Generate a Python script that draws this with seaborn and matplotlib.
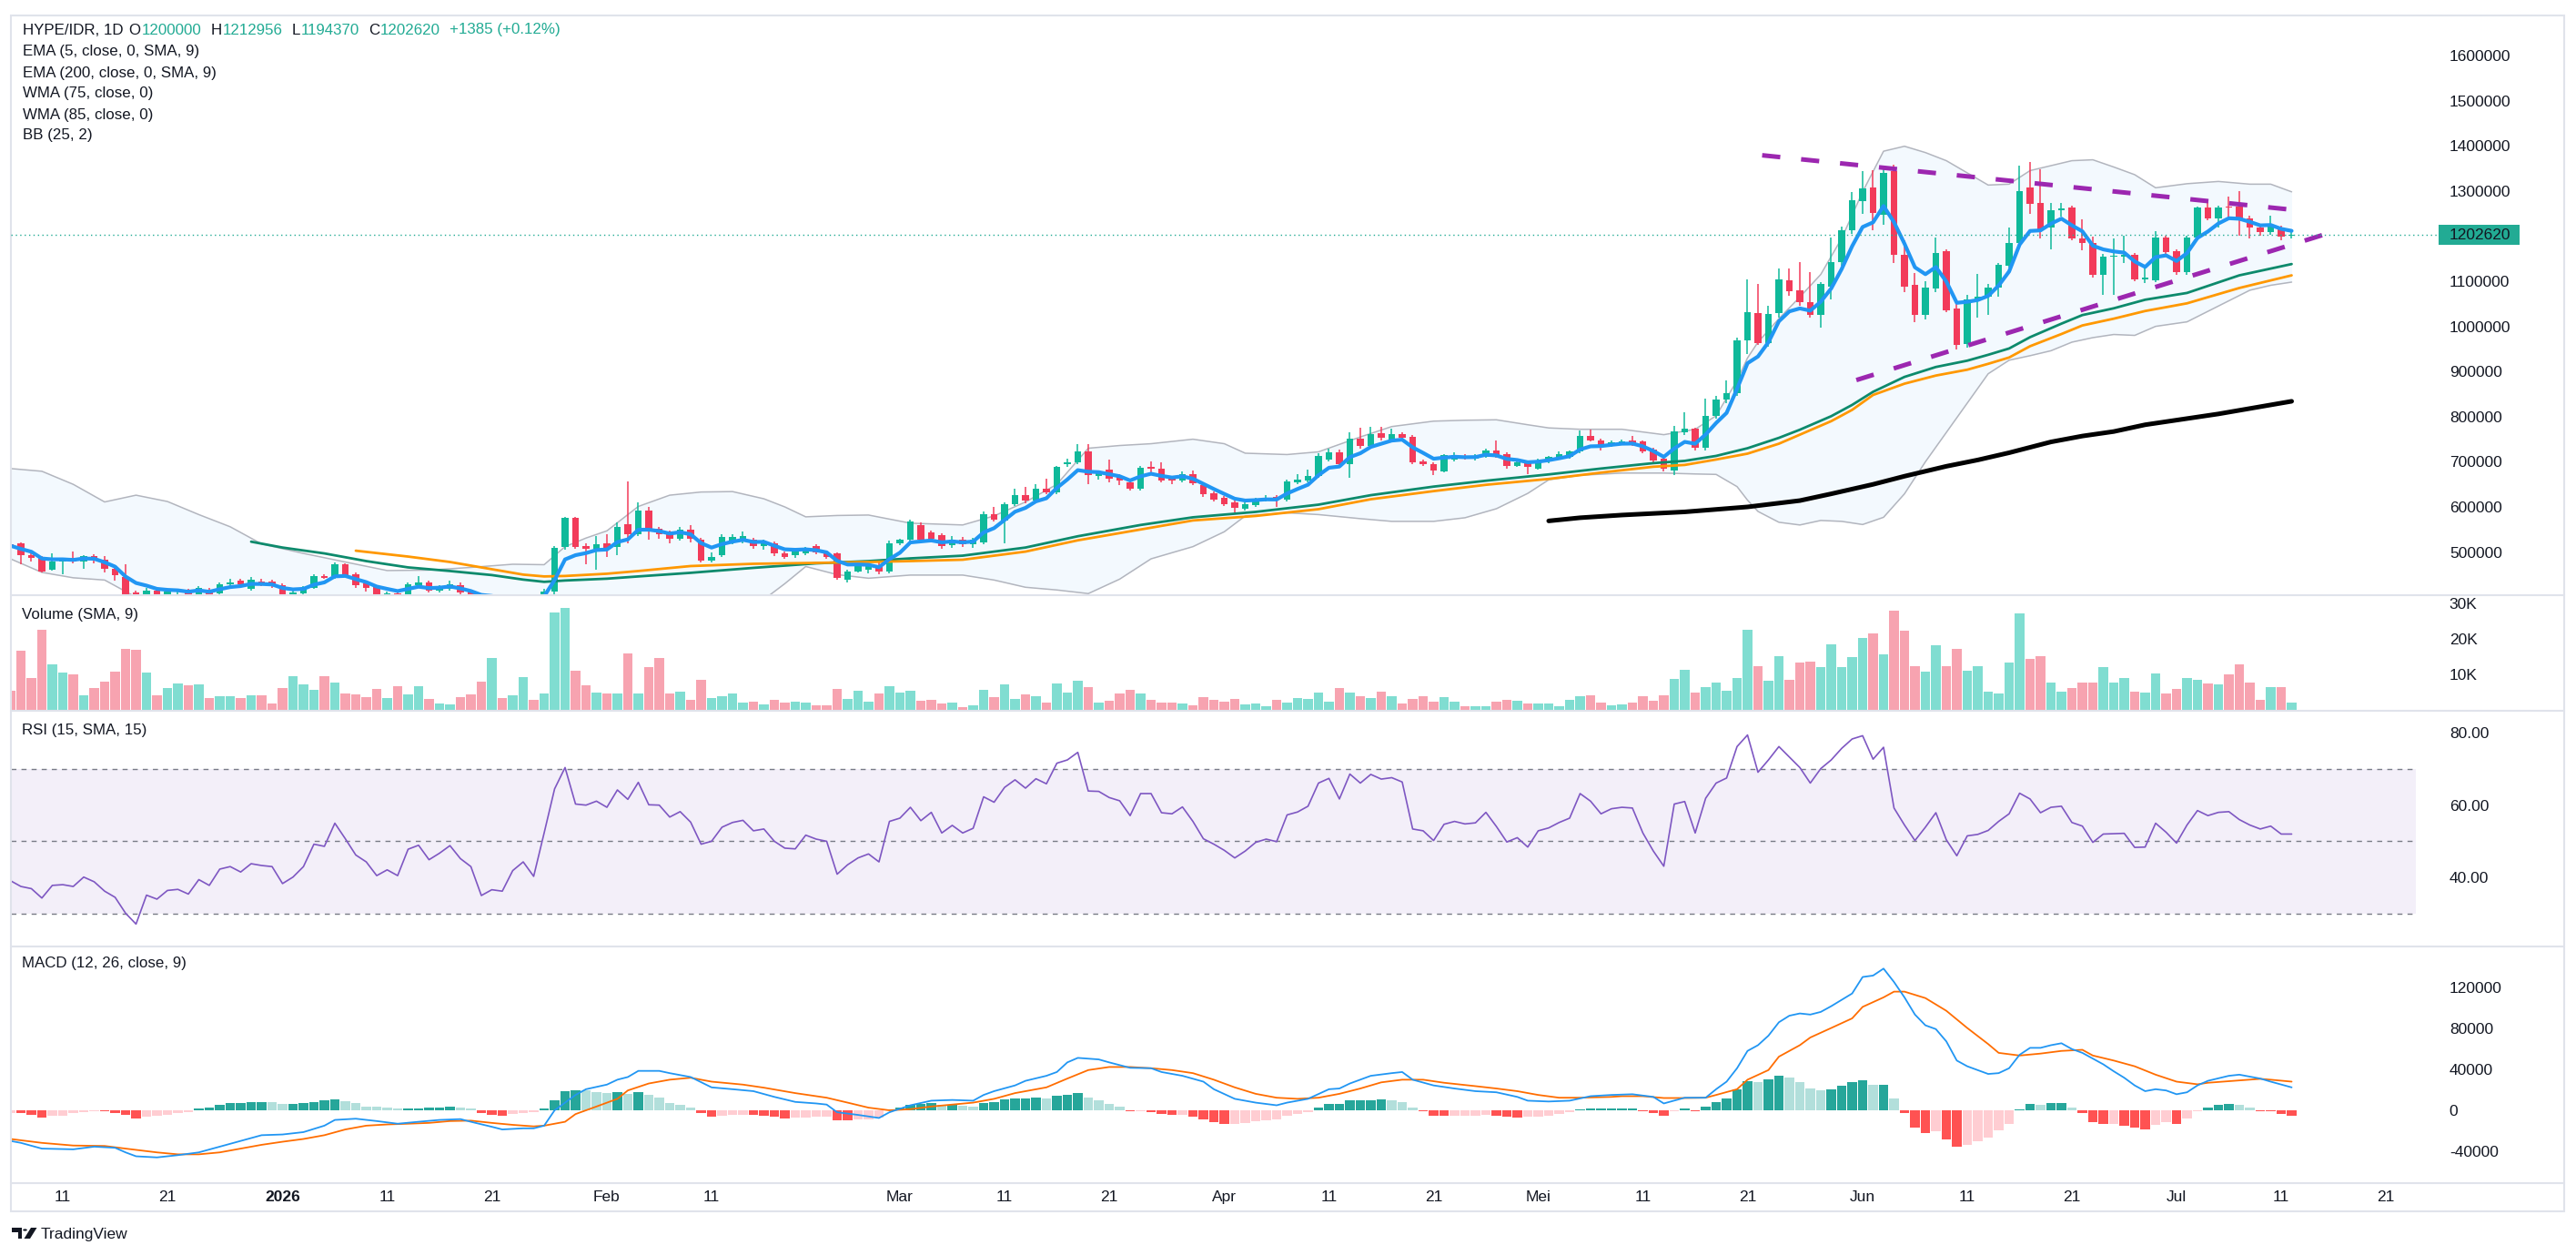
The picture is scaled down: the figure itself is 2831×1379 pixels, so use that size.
import numpy as np
import pandas as pd
import matplotlib
matplotlib.use("Agg")
import matplotlib.pyplot as plt
import seaborn as sns
from matplotlib.lines import Line2D
from matplotlib.patches import Rectangle, Polygon, Circle
from matplotlib.transforms import blended_transform_factory, Bbox, TransformedBbox

# ------------------------------------------------------------------ data
start_date = "2025-12-06"          # first daily candle (index 0)
symbol_title = "HYPE/IDR, 1D"
last_ohlc = [("O", "1200000"), ("H", "1212956"), ("L", "1194370"), ("C", "1202620")]
last_change = "+1385 (+0.12%)"
last_price = 1202620

# daily candles, values in thousand IDR
open_k = [516,520,494,489,461,480,487,479,492,483, 462,445,410,403,414,405,412,414,405,417,
          409,428,436,419,434,434,426,406,409,420, 446,446,473,451,430,422,405,409,402,426,
          432,414,418,427,412,402,388,398,390,396, 402,393,412,511,575,513,508,519,512,561,
          540,592,551,545,530,550,527,481,493,522, 523,527,513,520,497,493,497,513,500,497,
          438,456,461,470,456,520,527,560,544,537, 515,528,517,521,584,570,607,626,614,641,
          633,694,699,723,668,683,669,654,640,687, 685,664,658,673,648,631,621,611,596,604,
          615,623,617,654,658,669,705,720,695,752, 736,763,750,761,755,701,695,679,705,713,
          707,711,726,717,691,699,685,700,707,710, 722,757,748,736,741,747,745,728,707,680,
          766,773,732,802,837,852,968,1029,963,1029, 1102,1080,1053,1025,1088,1143,1213,1277,1308,1248,
          1344,1159,1092,1026,1084,1166,1040,960,1057,1066, 1086,1135,1184,1307,1273,1218,1258,1264,1194,1184,
          1115,1154,1154,1158,1105,1103,1197,1166,1120,1197, 1263,1240,1265,1265,1240,1219,1208,1217,1200]
high_k = [520,521,498,491,497,486,502,494,495,491, 465,472,415,420,418,419,418,418,425,420,
          432,441,441,445,440,438,430,415,425,450, 450,478,476,455,433,425,412,412,432,446,
          436,426,436,432,416,408,402,401,400,405, 404,418,514,578,578,519,535,540,565,656,
          610,600,555,548,555,560,532,500,540,540, 545,532,528,524,502,506,512,518,503,500,
          460,478,476,478,525,530,572,566,548,542, 535,534,531,590,600,611,640,645,650,662,
          690,706,740,739,680,705,673,662,690,700, 698,668,678,680,652,634,625,614,610,620,
          627,626,660,672,682,718,730,728,765,775, 778,778,773,766,760,705,698,716,720,717,
          716,729,747,720,703,702,706,713,722,726, 770,772,752,748,750,758,748,732,710,780,
          810,776,840,845,880,975,1104,1093,1046,1128, 1129,1142,1120,1098,1196,1220,1297,1343,1345,1354,
          1359,1190,1118,1100,1197,1170,1050,1070,1117,1093, 1140,1219,1357,1364,1347,1273,1274,1268,1237,1199,
          1160,1195,1200,1163,1130,1210,1200,1170,1200,1266, 1275,1268,1287,1300,1245,1225,1245,1222,1212.956]
low_k = [510,473,480,454,458,451,476,463,476,454, 436,398,395,398,398,400,404,400,400,402,
         405,425,423,414,425,420,398,402,405,418, 440,440,445,420,413,396,398,398,398,424,
         410,410,414,407,396,382,370,385,386,390, 388,390,404,505,508,473,460,490,494,520,
         536,527,530,520,525,522,478,478,490,518, 520,508,505,492,485,488,493,496,485,438,
         433,455,452,450,452,515,522,524,522,508, 510,512,510,518,568,520,603,608,610,628,
         628,688,695,650,660,655,648,636,636,670, 655,650,654,648,622,612,602,588,592,600,
         612,600,612,650,655,664,700,690,664,730, 730,748,745,748,694,690,670,676,700,705,
         703,708,708,685,688,672,682,697,704,707, 719,745,726,733,738,736,718,698,678,670,
         760,725,726,795,830,845,938,958,955,1020, 1068,1045,1020,998,1060,1135,1205,1250,1213,1226,
         1140,1075,1009,1016,1075,1032,949,953,1020,1025, 1066,1130,1180,1249,1194,1170,1244,1190,1169,1108,
         1069,1070,1140,1100,1095,1097,1158,1115,1115,1190, 1235,1219,1238,1200,1195,1201,1203,1191,1194.37]
close_k = [514,493,488,456,480,484,480,492,484,462, 448,402,403,414,404,412,413,406,421,406,
           429,432,429,439,429,426,405,411,421,446, 443,473,449,426,420,404,408,404,428,433,
           414,423,429,411,402,388,398,390,396,402, 393,412,510,575,512,507,518,508,555,540,
           592,550,540,530,550,530,481,490,533,534, 535,513,523,497,490,503,508,500,490,443,
           456,473,470,456,520,527,567,528,530,513, 528,517,527,584,572,607,626,615,641,633,
           688,698,723,671,675,663,659,640,686,685, 659,658,673,652,628,617,607,597,606,617,
           620,616,656,660,668,712,720,695,752,736, 761,754,761,753,698,695,681,714,715,708,
           711,726,711,691,699,689,703,710,716,722, 757,748,736,743,745,741,722,703,685,767,
           773,732,801,837,853,968,1032,963,1028,1104, 1077,1053,1025,1094,1143,1213,1279,1305,1251,1339,
           1159,1088,1026,1085,1163,1035,958,1059,1066,1086, 1136,1184,1300,1272,1215,1257,1261,1194,1184,1115,
           1154,1157,1158,1105,1107,1197,1165,1120,1197,1263, 1239,1263,1263,1236,1218,1208,1226,1199,1202.62]
volume_k = [5.5,16.6,8.9,22.5,12.8,10.6,10.0,4.0,6.1,8.0, 10.8,17.1,16.9,10.6,4.0,6.1,7.4,6.8,7.2,3.3,
            3.9,3.9,3.3,4.0,4.1,1.8,6.1,9.5,7.2,5.6, 9.5,7.6,4.6,4.4,3.6,5.9,3.3,6.6,4.4,6.6,
            3.1,1.8,1.5,3.7,4.4,8.0,14.7,3.4,4.2,9.3, 2.8,4.6,27.4,28.6,11.0,7.0,4.8,4.6,4.6,15.8,
            4.6,12.1,14.7,4.6,5.2,2.8,8.5,3.4,3.9,4.6, 2.0,2.4,1.5,2.8,2.0,2.4,2.0,1.3,1.3,5.8,
            3.1,5.4,2.4,4.6,6.7,4.8,5.4,2.6,2.8,1.8, 2.0,0.8,1.3,5.6,3.6,7.2,3.1,4.4,3.9,2.0,
            7.4,4.8,8.2,6.4,2.0,2.6,4.6,5.6,4.6,2.8, 2.0,2.0,1.8,1.3,3.6,2.8,2.4,3.1,1.5,1.8,
            1.1,2.8,2.0,3.3,3.1,4.8,2.4,6.1,4.8,3.9, 3.3,5.2,3.9,1.8,3.1,3.9,2.4,3.6,2.4,1.1,
            1.1,1.1,2.4,2.8,2.6,1.8,1.8,1.8,1.1,2.8, 3.9,4.1,2.0,1.3,1.5,2.0,3.9,2.6,4.1,8.7,
            11.3,4.8,6.5,7.6,5.4,8.9,22.5,12.3,8.2,15.1, 8.5,13.4,13.6,12.1,18.4,12.1,14.9,20.3,21.6,15.6,
            27.9,22.3,12.3,10.8,18.2,12.3,17.1,11.0,12.3,5.2, 4.6,13.4,27.2,14.3,15.1,7.6,5.2,6.1,7.6,7.6,
            12.1,7.6,8.9,5.2,4.8,10.2,4.6,5.9,8.9,8.5, 7.4,7.2,10.0,12.8,7.6,2.8,6.5,6.5,2.0]

# RSI (15) read per candle
rsi_vals = [39.1,37.5,36.9,34.3,37.8,38.0,37.5,40.1,38.8,36.2, 34.5,30.1,27.1,35.1,34.0,36.4,36.7,35.4,39.4,37.8,
            42.3,43.0,41.5,43.8,43.3,43.0,38.3,40.1,43.0,49.2, 48.6,55.0,50.7,46.2,44.3,40.5,42.1,40.5,47.8,48.9,
            44.9,46.7,48.8,45.2,43.0,35.0,36.6,36.2,41.9,44.3, 40.3,52.3,64.5,70.4,60.3,60.0,61.1,59.4,64.2,61.6,
            66.3,60.1,60.0,56.7,58.2,55.3,49.2,50.0,53.9,55.2, 55.8,52.9,53.4,50.0,48.1,47.9,51.7,50.6,50.0,40.9,
            43.5,45.4,46.5,44.3,55.5,56.4,59.4,55.7,58.0,52.3, 54.4,52.3,53.6,62.3,60.8,64.9,67.0,64.7,67.3,65.9,
            71.6,72.5,74.6,63.9,63.8,62.1,61.2,57.1,63.2,63.2, 57.9,57.6,59.5,55.5,50.7,49.2,47.5,45.4,47.3,49.7,
            50.6,49.9,57.3,58.1,59.7,66.1,67.4,61.7,68.6,66.1, 68.5,67.2,67.6,66.4,53.4,52.9,50.2,54.7,55.5,54.8,
            55.1,58.0,54.1,49.8,51.0,48.4,52.9,53.7,55.2,56.4, 63.2,61.1,57.6,59.0,59.4,59.2,52.3,47.3,43.1,60.3,
            61.0,52.3,61.9,66.1,67.5,76.2,79.4,69.1,72.5,76.2, 73.3,70.4,66.1,70.1,72.5,75.7,78.3,79.2,72.7,76.0,
            59.2,54.5,50.2,53.9,57.9,50.4,46.0,51.5,51.9,53.0, 55.5,57.6,63.3,61.7,57.9,59.4,59.7,55.2,54.2,49.7,
            52.0,52.1,52.2,48.3,48.4,55.0,52.5,49.5,54.5,58.5, 57.1,58.0,58.2,56.0,54.5,53.4,54.2,52.0,52.0]

# MACD histogram per candle (thousand)
hist_k = [-2.6,-3.0,-4.5,-6.7,-4.9,-4.9,-3.0,-1.9,-0.7,-1.1, -2.6,-4.5,-7.9,-6.4,-5.6,-4.1,-3.0,-1.9,2.2,3.0,
          4.9,6.7,7.5,8.2,8.2,7.9,6.4,6.4,6.7,7.9, 9.4,10.8,8.6,6.7,3.7,3.4,3.0,1.5,2.2,2.2,
          3.0,3.0,3.4,2.6,1.5,-2.6,-4.5,-5.2,-3.7,-3.0, -1.9,1.9,10.1,18.7,19.8,19.4,17.6,16.8,17.6,16.1,
          17.6,15.0,12.3,7.5,5.6,2.6,-2.6,-6.4,-5.6,-4.5, -4.1,-4.5,-5.6,-6.4,-7.9,-7.5,-7.5,-6.4,-6.4,-9.4,
          -10.1,-8.6,-8.6,-7.5,1.1,2.6,5.6,6.4,6.7,5.2, 5.6,4.1,3.4,6.7,7.9,10.5,12.0,12.0,12.7,12.0,
          14.6,15.0,16.5,12.7,10.1,6.4,3.4,-1.1,-1.1,-1.9, -3.4,-4.5,-4.5,-6.4,-8.6,-11.2,-13.1,-13.1,-12.0,-10.8,
          -10.1,-8.6,-5.6,-3.7,-1.9,3.0,6.4,6.4,10.1,10.1, 10.1,10.8,10.1,8.2,3.0,-1.1,-4.9,-5.6,-5.6,-5.6,
          -4.9,-4.1,-5.6,-6.4,-7.5,-6.4,-6.4,-4.9,-3.7,-1.9, 1.1,1.9,1.9,1.9,1.9,1.9,-1.1,-2.6,-5.6,-1.1,
          1.9,-0.7,3.7,8.2,12.0,20.6,28.8,27.3,29.9,33.7, 31.8,27.3,21.7,19.8,20.6,23.6,27.3,29.2,25.1,25.1,
          12.0,-2.6,-16.8,-22.4,-20.6,-28.1,-35.5,-34.0,-30.3,-26.9, -19.8,-13.1,0.7,6.4,5.6,6.7,7.5,2.6,-3.0,-11.2,
          -13.1,-13.1,-15.0,-16.8,-18.7,-13.8,-11.2,-13.1,-8.2,-1.1, 3.0,5.6,6.4,5.6,2.6,-0.7,-1.1,-3.7,-5.6]

# MACD and signal lines read at sample candles: (candle index, thousand)
macd_pts = [(0,-29.9),(1,-31.8),(3,-37.4),(6,-38.1),(8,-35.5),(10,-36.6),(11,-41.1),(12,-44.9),(14,-46.0),
            (16,-43.8),(18,-41.1),(20,-35.5),(22,-29.9),(24,-24.3),(26,-23.6),(28,-21.3),(30,-15.0),(31,-9.4),
            (33,-8.2),(35,-10.5),(37,-13.1),(39,-11.2),(41,-9.4),(43,-8.6),(44,-11.2),(46,-16.1),(47,-18.7),
            (49,-17.6),(50,-17.6),(51,-15.0),(52,0.0),(54,15.0),(55,20.6),(57,25.1),(58,29.9),(59,32.5),
            (60,38.5),(62,38.5),(63,36.3),(65,32.5),(67,22.4),(69,20.6),(71,18.7),(73,13.1),(75,8.2),
            (77,6.7),(78,5.6),(79,-1.9),(81,-4.5),(83,-7.5),(84,-1.9),(86,4.9),(88,9.4),(90,10.1),(92,9.4),
            (93,15.0),(94,18.7),(96,24.3),(97,28.8),(99,33.7),(100,37.4),(101,46.8),(102,51.2),(104,49.7),
            (105,46.8),(107,41.5),(109,41.1),(110,37.4),(112,33.7),(114,28.0),(115,20.6),(117,11.2),(119,7.5),
            (121,4.9),(122,7.5),(124,11.2),(126,20.6),(127,21.3),(128,26.2),(130,33.7),(132,36.3),(133,37.4),
            (134,29.9),(136,24.3),(138,21.3),(140,18.7),(142,17.6),(144,13.1),(145,9.4),(147,8.6),(149,9.4),
            (151,13.8),(153,15.0),(155,15.7),(157,13.1),(158,6.7),(160,12.3),(162,12.3),(163,20.6),(164,28.0),
            (165,41.1),(166,58.0),(167,63.6),(168,72.9),(169,86.0),(170,92.4),(171,94.6),(172,93.5),(173,96.1),
            (174,101.7),(176,114.1),(177,130.2),(178,131.6),(179,138.4),(180,125.3),(181,110.3),(182,93.5),
            (183,83.0),(184,79.3),(185,67.3),(186,48.6),(187,43.0),(188,39.3),(189,35.5),(190,36.3),(191,41.1),
            (192,54.2),(193,61.0),(194,61.0),(195,63.6),(196,65.5),(197,59.8),(198,56.1),(200,44.9),(201,38.1),
            (202,31.8),(203,24.3),(204,18.7),(205,20.6),(206,19.4),(207,15.7),(208,17.6),(209,24.3),(210,28.8),
            (212,33.7),(213,34.8),(215,31.0),(216,28.0),(218,22.4)]
signal_pts = [(0,-28.0),(3,-31.8),(6,-34.4),(9,-34.8),(11,-37.4),(14,-41.1),(16,-43.0),(18,-43.0),(20,-41.1),
              (22,-37.4),(24,-33.7),(26,-30.7),(28,-28.0),(30,-24.3),(32,-18.7),(34,-15.0),(36,-13.8),(38,-13.1),
              (40,-12.3),(42,-10.5),(44,-10.1),(46,-12.3),(48,-14.2),(50,-15.7),(51,-15.0),(53,-11.2),(54,-3.7),
              (56,3.7),(58,11.2),(59,19.4),(61,26.2),(63,29.9),(65,31.8),(67,28.0),(70,25.1),(72,22.1),(75,16.8),
              (78,12.3),(80,7.5),(82,2.6),(84,0.0),(86,1.1),(88,3.7),(90,5.6),(92,7.5),(94,11.2),(96,16.8),
              (99,22.4),(101,31.0),(103,39.3),(105,42.3),(107,42.3),(109,41.1),(111,39.3),(113,36.3),(115,29.9),
              (117,22.4),(119,16.1),(121,12.3),(123,11.2),(125,12.3),(127,16.1),(129,21.3),(131,27.3),(133,29.9),
              (135,29.9),(137,26.9),(140,23.6),(142,21.3),(144,18.7),(146,15.0),(148,12.3),(150,12.3),(153,13.1),
              (154,13.8),(156,13.8),(158,12.0),(160,12.0),(162,12.3),(163,15.0),(165,20.6),(166,29.9),(168,39.3),
              (169,52.4),(171,63.6),(172,71.1),(174,80.4),(176,89.8),(177,101.0),(179,110.3),(180,115.9),
              (181,115.9),(183,109.6),(185,97.2),(187,80.4),(189,64.7),(190,56.1),(192,53.5),(194,55.4),(196,58.0),
              (198,59.1),(199,53.5),(201,48.6),(203,43.0),(205,34.8),(207,28.0),(209,25.4),(210,26.9),(213,29.2),
              (215,30.7),(216,29.9),(218,28.0)]

# Bollinger Bands (25, 2) read at sample candles (thousand)
bb_day = [0,3,6,9,12,15,18,21,24,28, 32,36,40,44,48,51,53,55,57,60, 63,66,69,72,74,76,79,82,86,91,
          94,97,100,103,106,109,113,116,118,122, 125,129,132,136,139,142,145,147,150,154,
          158,161,163,165,166,167,169,171,173,175, 177,179,181,183,185,187,189,191,193,195,
          197,199,201,203,205,208,211,214,216,218]
bb_upper_k = [685,679,650,611,626,612,583,556,518,497, 478,459,460,466,473,472,512,531,547,601,
              626,633,634,618,600,578,581,582,564,560, 580,611,650,730,736,740,750,740,719,716,
              722,755,778,790,792,793,782,775,772,772, 760,772,802,880,930,965,1017,1065,1115,1195,
              1298,1388,1399,1385,1367,1340,1313,1315,1345,1356, 1367,1369,1353,1336,1307,1316,1321,1315,1315,1298]
bb_lower_k = [485,455,443,438,400,392,388,385,382,378, 376,374,372,368,362,355,348,345,345,350,
              355,362,372,395,430,468,450,442,449,449, 438,422,416,408,440,485,512,545,580,587,
              583,574,568,568,576,596,630,660,670,675, 675,673,672,645,615,590,566,560,570,568,
              561,577,629,700,765,830,895,925,935,946, 965,975,982,980,1000,1010,1045,1080,1091,1098]

# moving averages read at sample candles (thousand)
wma75_day = [23,26,30,34,38,42,46,49,51,53, 57,60,65,71,77,82,86,91,97,102, 108,113,119,125,130,136,141,147,152,157,
             160,163,166,169,171,174,176,178,181,184, 187,189,191,193,196,198,201,204,208,213, 218]
wma75_k = [523,510,497,480,466,458,449,439,434,437, 441,446,454,465,475,480,486,492,510,535,
           560,577,589,605,626,645,658,672,685,697, 702,713,730,753,771,801,826,855,888,910,
           924,937,951,976,1006,1025,1040,1059,1074,1113, 1138]
wma85_day = [33,38,42,46,49,51,53,57,60,65, 71,77,82,86,91,97,102,108,113,119, 125,130,136,141,147,152,157,160,163,166,
             169,171,174,176,178,181,184,187,189,191, 193,196,198,201,204,208,213,218]
wma85_k = [503,490,478,462,450,446,447,452,458,469, 474,476,478,480,483,501,526,550,570,580,
           595,617,635,649,662,676,689,693,705,718, 740,760,790,815,848,873,891,904,917,931,
           956,983,1002,1017,1034,1051,1085,1113]
ema200_day = [147,150,154,160,166,171,174,178,181,185,188,191,195,198,201,204,211,218]
ema200_k = [569,576,582,589,600,614,629,650,668,690,704,720,744,757,767,782,806,834]

# drawn trend lines: (candle index, thousand)
trend_upper = [(167.4, 1379.0), (218.6, 1257.0)]
trend_lower = [(176.4, 881.0), (221.4, 1205.5)]

tick_dates = ["2025-12-11","2025-12-21","2026-01-01","2026-01-11","2026-01-21","2026-02-01","2026-02-11",
              "2026-03-01","2026-03-11","2026-03-21","2026-04-01","2026-04-11","2026-04-21","2026-05-01",
              "2026-05-11","2026-05-21","2026-06-01","2026-06-11","2026-06-21","2026-07-01","2026-07-11","2026-07-21"]
tick_labels = ["11","21","2026","11","21","Feb","11","Mar","11","21","Apr","11","21","Mei","11","21",
               "Jun","11","21","Jul","11","21"]
price_ticks = [500000,600000,700000,800000,900000,1000000,1100000,1300000,1400000,1500000,1600000]
vol_ticks = [10000, 20000, 30000]
vol_tick_labels = ["10K", "20K", "30K"]
rsi_ticks = [40, 60, 80]
macd_ticks = [-40000, 0, 40000, 80000, 120000]
indicator_legend = ["EMA (5, close, 0, SMA, 9)", "EMA (200, close, 0, SMA, 9)", "WMA (75, close, 0)",
                    "WMA (85, close, 0)", "BB (25, 2)"]

# ------------------------------------------------------------------ style
sns.set_theme(style="white")
plt.rcParams['font.family'] = ['Liberation Sans', 'DejaVu Sans']
plt.rcParams['axes.unicode_minus'] = False

UP, DN = "#0fb99a", "#f23b5a"
VUP, VDN = "#80ddd1", "#f7a3b0"
TXT = "#131722"
BORDER = "#e0e3eb"
FS = 12.5
LFS = 12.2

W, H = 2831, 1379
fig = plt.figure(figsize=(W / 100, H / 100), dpi=100)
fig.patch.set_facecolor("white")

LPX, RPX = 12, 2655
PX_PER_DAY = 11.5
XL = (5 + (LPX - 69) / PX_PER_DAY, 5 + (RPX - 69) / PX_PER_DAY)


def pane(top, bot):
    ax = fig.add_axes([LPX / W, 1 - bot / H, (RPX - LPX) / W, (bot - top) / H])
    ax.set_facecolor("none")
    for s in ax.spines.values():
        s.set_visible(False)
    ax.set_xlim(*XL)
    ax.yaxis.tick_right()
    ax.tick_params(axis="y", length=0, pad=26.5, labelsize=FS, labelcolor=TXT)
    ax.tick_params(axis="x", length=0, labelbottom=False)
    ax.grid(False)
    return ax


axp = pane(17, 654)
axv = pane(654, 781)
axr = pane(781, 1040)
axm = pane(1040, 1300)

n = len(close_k)
day = np.arange(n)
o = np.array(open_k) * 1000
h = np.array(high_k) * 1000
l = np.array(low_k) * 1000
c = np.array(close_k) * 1000
up = c >= o

# ---- price pane
bu = np.array(bb_upper_k) * 1000
bl = np.array(bb_lower_k) * 1000
axp.fill_between(bb_day, bl, bu, color="#2196f3", alpha=0.05, lw=0, zorder=1)
sns.lineplot(x=bb_day, y=bu, ax=axp, color="#b2b5be", linewidth=1.1, zorder=2)
sns.lineplot(x=bb_day, y=bl, ax=axp, color="#b2b5be", linewidth=1.1, zorder=2)

axp.vlines(day, l, h, colors=np.where(up, UP, DN), lw=1.1, zorder=3)
body_bot = np.minimum(o, c)
body_h = np.maximum(np.abs(c - o), 2800)
axp.bar(day, body_h, bottom=body_bot, width=0.68, color=np.where(up, UP, DN), linewidth=0, zorder=4)

ema5 = pd.Series(c).ewm(span=5, adjust=False).mean()
sns.lineplot(x=day, y=ema5.values, ax=axp, color="#2196f3", linewidth=3.0, zorder=6)
sns.lineplot(x=wma75_day, y=np.array(wma75_k) * 1000, ax=axp, color="#0d8a6c", linewidth=2.0, zorder=5)
sns.lineplot(x=wma85_day, y=np.array(wma85_k) * 1000, ax=axp, color="#ff9800", linewidth=2.0, zorder=5)
sns.lineplot(x=ema200_day, y=np.array(ema200_k) * 1000, ax=axp, color="#000000", linewidth=3.6, zorder=5)

for pts in (trend_upper, trend_lower):
    xs = [p[0] for p in pts]
    ys = [p[1] * 1000 for p in pts]
    axp.plot(xs, ys, color="#9c27b0", lw=3.6, ls=(0, (4.0, 4.6)), dash_capstyle="butt", zorder=7)

axp.set_ylim(404435, 1688710)
axp.set_yticks(price_ticks)
axp.set_yticklabels([str(v) for v in price_ticks])

# last price line + badge
tr = blended_transform_factory(fig.transFigure, axp.transData)
fig.add_artist(Line2D([LPX / W, 2680 / W], [last_price, last_price], transform=tr,
                      color="#22ab94", lw=1.0, ls=(0, (1, 2.5))))
ppx = (1688710 - 404435) / 637.0
fig.add_artist(Rectangle((2680 / W, last_price - 11 * ppx), 89 / W, 22 * ppx, transform=tr,
                         facecolor="#22ab94", edgecolor="none"))
fig.text(2692 / W, last_price, str(last_price), transform=tr, ha="left", va="center",
         fontsize=FS, color=TXT)

# ---- volume pane
vol = np.array(volume_k) * 1000
axv.bar(day, vol, width=0.88, color=np.where(up, VUP, VDN), linewidth=0)
axv.set_ylim(-250, 32300)
axv.set_yticks(vol_ticks)
axv.set_yticklabels(vol_tick_labels)
vclip = TransformedBbox(Bbox([[0, 1 - 781 / H], [1, 1 - 655 / H]]), fig.transFigure)
for lab in axv.get_yticklabels():
    lab.set_clip_box(vclip)
    lab.set_clip_on(True)

# ---- RSI pane
axr.axhspan(30, 70, color="#7e57c2", alpha=0.09, lw=0, zorder=0)
for lv in (70, 50, 30):
    axr.axhline(lv, color="#787b86", lw=1.0, ls=(0, (4, 4)), zorder=1)
sns.lineplot(x=day, y=rsi_vals, ax=axr, color="#7e57c2", linewidth=1.2, zorder=3)
axr.set_ylim(20.9, 86.1)
axr.set_yticks(rsi_ticks)
axr.set_yticklabels([f"{v:.2f}" for v in rsi_ticks])

# ---- MACD pane
hist = np.array(hist_k) * 1000
prev = np.concatenate([[hist[0]], hist[:-1]])
hcol = np.where(hist >= 0, np.where(hist >= prev, "#26a69a", "#b2dfdb"),
                np.where(hist < prev, "#ff5252", "#ffcdd2"))
axm.bar(day, hist, width=0.88, color=hcol, linewidth=0, zorder=2)
md = [p[0] for p in macd_pts]
mv = [p[1] * 1000 for p in macd_pts]
sd = [p[0] for p in signal_pts]
sv = [p[1] * 1000 for p in signal_pts]
sns.lineplot(x=md, y=mv, ax=axm, color="#2196f3", linewidth=1.3, zorder=4)
sns.lineplot(x=sd, y=sv, ax=axm, color="#ff6d00", linewidth=1.3, zorder=3)
axm.set_ylim(-71100, 160000)
axm.set_yticks(macd_ticks)
axm.set_yticklabels([str(v) for v in macd_ticks])

# x ticks
t0 = pd.Timestamp(start_date)
tick_pos = [(pd.Timestamp(d) - t0).days for d in tick_dates]
axm.set_xticks(tick_pos)
axm.set_xticklabels(tick_labels)
axm.tick_params(axis="x", labelbottom=True, pad=6, labelsize=FS, labelcolor=TXT)
for lab in axm.get_xticklabels():
    if lab.get_text() == "2026":
        lab.set_fontweight("bold")

for ax in (axp, axv, axr, axm):
    ax.set_xlim(*XL)
    ax.set_xlabel("")
    ax.set_ylabel("")

# ---- frame and separators
def hline(py, x0=12, x1=2818):
    fig.add_artist(Line2D([x0 / W, x1 / W], [1 - py / H] * 2, color=BORDER, lw=1.5))

for py in (654, 781, 1040, 1300):
    hline(py)
fig.add_artist(Rectangle((12 / W, 1 - 1331 / H), (2818 - 12) / W, (1331 - 17) / H,
                         fill=False, edgecolor=BORDER, lw=1.5))

# ---- legend texts
renderer = fig.canvas.get_renderer()


def T(px, py, s, color=TXT, size=LFS, **kw):
    return fig.text(px / W, 1 - py / H, s, color=color, ha="left", va="center", fontsize=size, **kw)


def width_px(t):
    return t.get_window_extent(renderer=renderer).width


GREEN_TXT = "#22ab94"
x = 25
t = T(x, 33, symbol_title)
x += width_px(t) + 6
for letter, num in last_ohlc:
    t = T(x, 33, letter)
    x += width_px(t) + 1
    t = T(x, 33, num, GREEN_TXT)
    x += width_px(t) + 10
T(x, 33, last_change, GREEN_TXT)

for k, s in enumerate(indicator_legend):
    T(25, 57 + k * 23, s)
T(24, 676, "Volume (SMA, 9)")
T(24, 802, "RSI (15, SMA, 15)")
T(24, 1059, "MACD (12, 26, close, 9)")

# TradingView logo (shapes) + wordmark
def P(pts, **kw):
    fig.add_artist(Polygon([(px / W, 1 - py / H) for px, py in pts], closed=True,
                           transform=fig.transFigure, **kw))

P([(13, 1349), (24, 1349), (24, 1361), (19.5, 1361), (19.5, 1353.5), (13, 1353.5)], facecolor="#131722", edgecolor="none")
fig.add_artist(Circle((27.5 / W, 1 - 1351.5 / H), 2.3 / W, transform=fig.transFigure,
                      facecolor="#131722", edgecolor="none"))
P([(34, 1349), (40.5, 1349), (33, 1361), (26.5, 1361)], facecolor="#131722", edgecolor="none")
T(45, 1356, "TradingView", "#131722", size=12.5)

fig.savefig("out.png", dpi=100, facecolor="white")
